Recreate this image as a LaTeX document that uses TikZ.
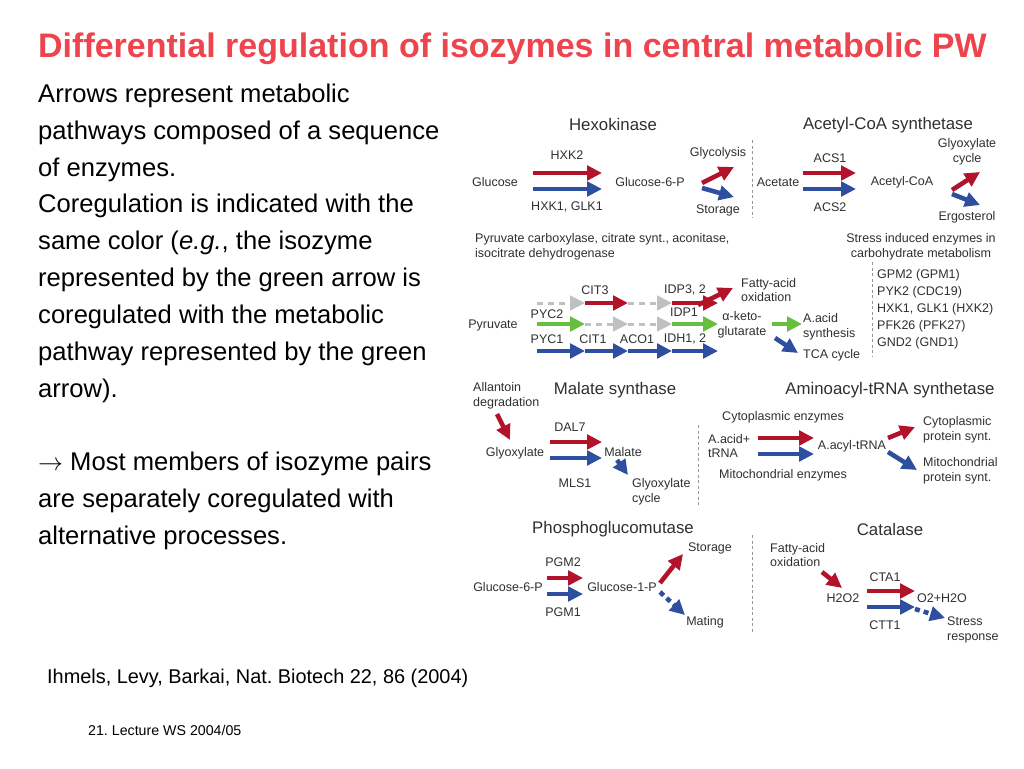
\documentclass[tikz,border=0pt]{standalone}
\usepackage{fontspec}
\setmainfont{Liberation Sans}
\usetikzlibrary{arrows.meta,calc}
\frenchspacing
\definecolor{titlered}{RGB}{238,68,78}
\definecolor{pwred}{RGB}{178,18,42}
\definecolor{pwblue}{RGB}{46,78,160}
\definecolor{pwgreen}{RGB}{104,190,62}
\definecolor{pwgray}{RGB}{192,192,192}
\definecolor{figtext}{RGB}{48,48,48}
\definecolor{sepgray}{RGB}{150,150,150}

\begin{document}
\begin{tikzpicture}[x=1pt,y=-1pt,
    lbl/.style={font=\fontsize{12.5}{14.5}\selectfont, text=figtext, inner sep=0pt, align=center},
    lbll/.style={lbl, align=left, anchor=west},
    panel/.style={font=\fontsize{16.8}{19}\selectfont, text=figtext, inner sep=0pt},
    body/.style={font=\fontsize{25.6}{30}\selectfont, anchor=base west, inner sep=0pt},
    pathway/.style={line width=4.6pt, -{Triangle[length=15pt,width=14.5pt]}},
    redpw/.style={pathway, pwred},
    bluepw/.style={pathway, pwblue},
    greenpw/.style={pathway, pwgreen},
    graypw/.style={pathway, pwgray, line width=3pt, dash pattern=on 6pt off 5pt},
    divider/.style={draw=sepgray, line width=1pt, dash pattern=on 3pt off 2.5pt}
  ]
  \path[fill=white, use as bounding box] (0,0) rectangle (1024,768);

  % title and slide text
  \node[anchor=base west, inner sep=0pt, font=\fontsize{34}{40}\selectfont\bfseries, text=titlered]
    (title) at (38,57) {Differential regulation of isozymes in central metabolic PW};
  \foreach \y/\t [count=\i] in {102/{Arrows represent metabolic},
      139/{pathways composed of a sequence}, 176/{of enzymes.},
      212/{Coregulation is indicated with the},
      249/{same color (\textit{e.g.}, the isozyme},
      286/{represented by the green arrow is},
      323/{coregulated with the metabolic},
      360/{pathway represented by the green}, 397/{arrow).},
      470/{$\rightarrow$ Most members of isozyme pairs},
      507/{are separately coregulated with},
      544/{alternative processes.}}
    \node[body] (line\i) at (38,\y) {\t};
  \node[anchor=base west, inner sep=0pt, font=\fontsize{19.9}{24}\selectfont]
    (ref) at (47,683) {Ihmels, Levy, Barkai, Nat. Biotech 22, 86 (2004)};
  \node[anchor=base west, inner sep=0pt, font=\fontsize{14.2}{17}\selectfont]
    (lect) at (88,735) {21. Lecture WS 2004/05};

  % hexokinase
  \node[panel] (hk) at (613,124) {Hexokinase};
  \node[lbl] (glc) at (495,182) {Glucose};
  \node[lbl] (g6p) at (650,182) {Glucose-6-P};
  \node[lbl] (hxk2) at (567,155) {HXK2};
  \node[lbl] (hxk1) at (567,207) {HXK1, GLK1};
  \node[lbl] (glyc) at (718,153) {Glycolysis};
  \node[lbl] (stor) at (718,210) {Storage};
  \draw[redpw] ($(glc)+(38,-9)$) -- ($(g6p)+(-48,-9)$);
  \draw[bluepw] ($(glc)+(38,7)$) -- ($(g6p)+(-48,7)$);
  \draw[redpw] ($(g6p)+(52,1)$) -- ($(glyc)+(16,14)$);
  \draw[bluepw] ($(g6p)+(52,6)$) -- ($(stor)+(16,-13)$);
  \draw[divider] (752,140) -- (752,218);

  % acetyl-coa synthetase
  \node[panel] (acs) at (888,125) {Acetyl-CoA synthetase};
  \node[lbl] (ace) at (778,182) {Acetate};
  \node[lbl] (acoa) at (902,182) {Acetyl-CoA};
  \node[lbl] (acs1) at (830,158) {ACS1};
  \node[lbl] (acs2) at (830,207) {ACS2};
  \node[lbl] (gcyc) at (967,152) {Glyoxylate\\cycle};
  \node[lbl] (ergo) at (967,217) {Ergosterol};
  \draw[redpw] ($(ace)+(25,-9)$) -- ($(acoa)+(-46,-9)$);
  \draw[bluepw] ($(ace)+(25,7)$) -- ($(acoa)+(-46,7)$);
  \draw[redpw] ($(acoa)+(50,8)$) -- ($(gcyc)+(13,20)$);
  \draw[bluepw] ($(acoa)+(50,12)$) -- ($(ergo)+(13,-12)$);

  % pyruvate to alpha-ketoglutarate
  \node[lbll] (pcnote) at (475,247) {Pyruvate carboxylase, citrate synt., aconitase,\\isocitrate dehydrogenase};
  \node[lbl] (pyr) at (493,325) {Pyruvate};
  \foreach \n/\x in {0/537,1/585,2/628,3/672,4/718}{
    \coordinate (a\n) at (\x,303);
    \coordinate (b\n) at (\x,324);
    \coordinate (c\n) at (\x,351);
  }
  \draw[graypw] (a0) -- (a1);
  \draw[redpw] (a1) -- (a2);
  \draw[graypw] (a2) -- (a3);
  \draw[redpw] (a3) -- (a4);
  \draw[greenpw] (b0) -- (b1);
  \draw[graypw] (b1) -- (b2);
  \draw[graypw] (b2) -- (b3);
  \draw[greenpw] (b3) -- (b4);
  \draw[bluepw] (c0) -- (c1);
  \draw[bluepw] (c1) -- (c2);
  \draw[bluepw] (c2) -- (c3);
  \draw[bluepw] (c3) -- (c4);
  \node[lbl] (cit3) at (595,290) {CIT3};
  \node[lbl] (idp3) at (685,290) {IDP3, 2};
  \node[lbl] (pyc2) at (547,314) {PYC2};
  \node[lbl] (idp1) at (684,312) {IDP1};
  \node[lbl] (pyc1) at (547,339) {PYC1};
  \node[lbl] (cit1) at (593,339) {CIT1};
  \node[lbl] (aco1) at (637,339) {ACO1};
  \node[lbl] (idh1) at (685,339) {IDH1, 2};
  \node[lbll] (fao) at (741,290) {Fatty-acid\\oxidation};
  \draw[redpw] ($(fao.west)+(-43,15)$) -- ($(fao.west)+(-8,-2)$);
  \node[lbl] (akg) at (742,325) {α-keto-\\glutarate};
  \node[lbll] (aas) at (803,327) {A.acid\\synthesis};
  \node[lbll] (tca) at (803,355) {TCA cycle};
  \draw[greenpw] ($(akg)+(30,-1)$) -- ($(aas.west)+(-1,-3)$);
  \draw[bluepw] ($(akg)+(33,13)$) -- ($(tca.west)+(-5,-2)$);

  % stress induced enzymes
  \node[lbl] (stressnote) at (921,247) {Stress induced enzymes in\\carbohydrate metabolism};
  \draw[divider] (872,262) -- (872,357);
  \node[lbll, font=\fontsize{12.5}{17}\selectfont] (stresslist) at (877,309)
    {GPM2 (GPM1)\\PYK2 (CDC19)\\HXK1, GLK1 (HXK2)\\PFK26 (PFK27)\\GND2 (GND1)};

  % malate synthase
  \node[lbll] (allan) at (473,396) {Allantoin\\degradation};
  \node[panel] (ms) at (615,390) {Malate synthase};
  \node[lbl] (glx) at (515,453) {Glyoxylate};
  \node[lbl] (dal7) at (570,427) {DAL7};
  \node[lbl] (mal) at (623,452) {Malate};
  \node[lbl] (mls1) at (575,483) {MLS1};
  \node[lbll] (gcyc2) at (632,492) {Glyoxylate\\cycle};
  \draw[redpw] ($(allan.west)+(24,18)$) -- ($(glx)+(-5,-13)$);
  \draw[redpw] ($(glx)+(35,-11)$) -- ($(mal)+(-21,-10)$);
  \draw[bluepw] ($(glx)+(35,5)$) -- ($(mal)+(-21,6)$);
  \draw[bluepw] ($(mal)+(-6,8)$) -- ($(gcyc2.west)+(-4,-17)$);
  \draw[divider] (698,425) -- (698,507);

  % aminoacyl-trna synthetase
  \node[panel] (aars) at (890,390) {Aminoacyl-tRNA synthetase};
  \node[lbl] (cytenz) at (783,417) {Cytoplasmic enzymes};
  \node[lbll] (aat) at (708,446) {A.acid+\\tRNA};
  \node[lbl] (atrna) at (852,446) {A.acyl-tRNA};
  \node[lbl] (mitenz) at (783,475) {Mitochondrial enzymes};
  \node[lbll] (cps) at (923,430) {Cytoplasmic\\protein synt.};
  \node[lbll] (mps) at (923,471) {Mitochondrial\\protein synt.};
  \draw[redpw] ($(aat.west)+(50,-8)$) -- ($(atrna)+(-38,-8)$);
  \draw[bluepw] ($(aat.west)+(50,8)$) -- ($(atrna)+(-38,8)$);
  \draw[redpw] ($(atrna)+(36,-8)$) -- ($(cps.west)+(-8,-3)$);
  \draw[bluepw] ($(atrna)+(36,6)$) -- ($(mps.west)+(-6,-1)$);

  % phosphoglucomutase
  \node[panel] (pgm) at (613,529) {Phosphoglucomutase};
  \node[lbl] (g6pb) at (508,587) {Glucose-6-P};
  \node[lbl] (g1p) at (622,587) {Glucose-1-P};
  \node[lbl] (pgm2) at (563,562) {PGM2};
  \node[lbl] (pgm1) at (563,612) {PGM1};
  \node[lbl] (stor2) at (710,548) {Storage};
  \node[lbl] (mating) at (705,622) {Mating};
  \draw[redpw] ($(g6pb)+(39,-9)$) -- ($(g1p)+(-39,-9)$);
  \draw[bluepw] ($(g6pb)+(39,7)$) -- ($(g1p)+(-39,7)$);
  \draw[redpw] ($(g1p)+(38,-4)$) -- ($(stor2)+(-27,6)$);
  \draw[bluepw, dash pattern=on 5pt off 4pt] ($(g1p)+(38,5)$) -- ($(mating)+(-20,-7)$);
  \draw[divider] (752,535) -- (752,632);

  % catalase
  \node[panel] (cat) at (890,529) {Catalase};
  \node[lbll] (fao2) at (770,555) {Fatty-acid\\oxidation};
  \node[lbl] (h2o2) at (843,598) {H2O2};
  \node[lbl] (cta1) at (885,577) {CTA1};
  \node[lbl] (ctt1) at (885,625) {CTT1};
  \node[lbl] (o2) at (942,598) {O2+H2O};
  \node[lbll] (stressr) at (947,630) {Stress\\response};
  \draw[redpw] ($(fao2.west)+(52,17)$) -- ($(h2o2)+(-1,-10)$);
  \draw[redpw] ($(h2o2)+(24,-7)$) -- ($(o2)+(-27,-7)$);
  \draw[bluepw] ($(h2o2)+(24,9)$) -- ($(o2)+(-27,9)$);
  \draw[bluepw, dash pattern=on 5pt off 4pt] ($(o2)+(-27,11)$) -- ($(stressr.west)+(-2,-12)$);
\end{tikzpicture}
\end{document}
